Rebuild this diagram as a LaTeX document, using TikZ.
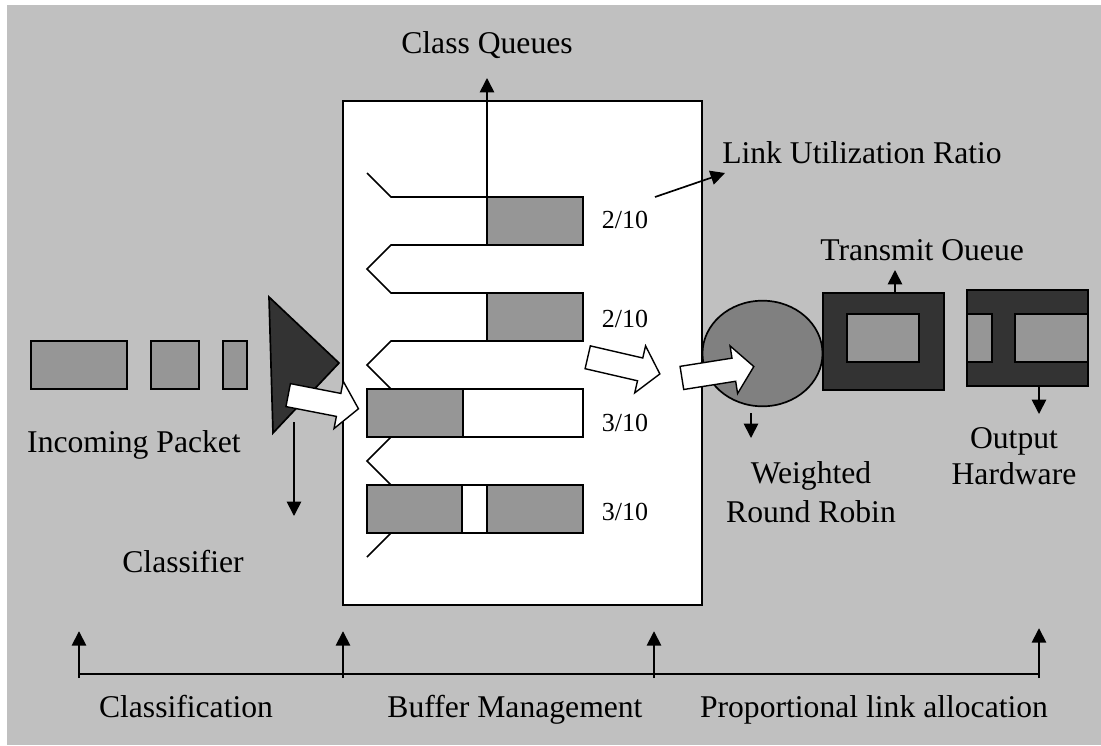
\documentclass[tikz,border=0pt]{standalone}
\usepackage{fontspec}
\setmainfont{Liberation Serif}
\usetikzlibrary{arrows.meta,positioning,shapes.geometric,shapes.arrows}
\definecolor{bggray}{HTML}{C0C0C0}
\definecolor{pktgray}{HTML}{969696}
\definecolor{rrgray}{HTML}{808080}
\definecolor{hwdark}{HTML}{333333}

\begin{document}
\begin{tikzpicture}[x=0.025cm, y=-0.025cm,
  lbl/.style={font=\fontsize{22.5}{27}\selectfont, inner sep=0pt, anchor=base},
  ratio/.style={font=\fontsize{18.5}{22}\selectfont, inner sep=0pt, anchor=base},
  blk/.style={draw, line width=1.2pt, inner sep=0pt},
  pkt/.style={blk, fill=pktgray, minimum height=1.2cm},
  hwbox/.style={blk, fill=hwdark, minimum width=3.025cm},
  bigarrow/.style={single arrow, draw, fill=white, line width=1pt,
                   inner sep=0.275cm, single arrow head extend=0.31cm,
                   single arrow tip angle=100, minimum height=1.82cm},
  tip/.style={-{Triangle[length=0.36cm,width=0.36cm]}, line width=1.2pt},
  qline/.style={line width=1.2pt, line join=miter}
]
\useasboundingbox (0,0) rectangle (1101,745);
\fill[bggray] (7,5) rectangle (1101,745);

% ---- Incoming packets -------------------------------------
\node[pkt, minimum width=2.4cm] (pkt1) at (79,365)  {};
\node[pkt, minimum width=1.2cm] (pkt2) at (175,365) {};
\node[pkt, minimum width=0.6cm] (pkt3) at (235,365) {};
\node[lbl] (inlbl) at (134,452) {Incoming Packet};

% ---- Classifier -------------------------------------------
\coordinate (clsA) at (269,297);
\coordinate (clsB) at (339,363);
\coordinate (clsC) at (273,433);
\draw[blk, fill=hwdark] (clsA) -- (clsB) -- (clsC) -- cycle;
\coordinate (clsfoot) at (294,422);
\coordinate (clstip)  at (294,516);
\draw[tip] (clsfoot) -- (clstip);
\node[lbl] (clslbl) at (183,572) {Classifier};

% ---- Buffer with class queues -----------------------------
\node[blk, fill=white, minimum width=8.975cm, minimum height=12.6cm] (buf) at (522.5,353) {};

% queue 1 and 2 (open at the left)
\draw[blk, fill=pktgray] (487,197) rectangle (583,245);
\draw[blk, fill=pktgray] (487,293) rectangle (583,341);
\draw[qline] (367,173) -- (391,197) -- (583,197) -- (583,245) -- (391,245)
  -- (367,269) -- (391,293) -- (583,293) -- (583,341) -- (391,341)
  -- (367,365) -- (391,389);
% queue 3
\draw[blk, fill=white]   (367,389) rectangle (583,437);
\draw[blk, fill=pktgray] (367,389) rectangle (463,437);
\draw[qline] (391,437) -- (367,461) -- (391,485);
% queue 4
\draw[blk, fill=white]   (367,485) rectangle (583,533);
\draw[blk, fill=pktgray] (367,485) rectangle (462,533);
\draw[blk, fill=pktgray] (487,485) rectangle (583,533);
\draw[qline] (391,533) -- (367,557);

\node[ratio] (r1) at (625,228) {2/10};
\node[ratio] (r2) at (625,327) {2/10};
\node[ratio] (r3) at (625,431) {3/10};
\node[ratio] (r4) at (625,520) {3/10};

% class queues label
\coordinate (q1top) at (487,197);
\coordinate (cqtip) at (487,78);
\draw[tip] (q1top) -- (cqtip);
\node[lbl] (cqlbl) at (487,53) {Class Queues};

% link utilization label
\coordinate (lufoot) at (655,197);
\coordinate (lutip)  at (725,173);
\draw[tip] (lufoot) -- (lutip);
\node[lbl, anchor=base west] (lulbl) at (722,163) {Link Utilization Ratio};

% ---- Weighted round robin ---------------------------------
\node[blk, ellipse, fill=rrgray, minimum width=3cm, minimum height=2.64cm] (wrr) at (762.5,353.5) {};
\coordinate (wrrfoot) at (751,413);
\coordinate (wrrtip)  at (751,438);
\draw[tip] (wrrfoot) -- (wrrtip);
\node[lbl, anchor=center, align=center, font=\fontsize{22.5}{27.7}\selectfont] (wrrlbl) at (811,492) {Weighted\\Round Robin};

% ---- Transmit queue ---------------------------------------
\node[hwbox, minimum height=2.425cm] (txq) at (883.5,341.5) {};
\draw[blk, fill=pktgray] (847,314) rectangle (919,362);
\coordinate (txqtop) at (895,293);
\coordinate (txqtip) at (895,270);
\draw[tip] (txqtop) -- (txqtip);
\node[lbl, anchor=base west] (txqlbl) at (820,260) {Transmit Oueue};

% ---- Output hardware --------------------------------------
\node[hwbox, minimum height=2.4cm] (outhw) at (1027.5,338) {};
\draw[blk, fill=pktgray] (967,314) rectangle (992,362);
\draw[blk, fill=pktgray] (1015,314) rectangle (1088,362);
\coordinate (hwfoot) at (1039,386);
\coordinate (hwtip)  at (1039,414);
\draw[tip] (hwfoot) -- (hwtip);
\node[lbl, anchor=center, align=center, font=\fontsize{22.5}{25.6}\selectfont] (hwlbl) at (1014,456) {Output\\Hardware};

% ---- Block arrows -----------------------------------------
\node[bigarrow, rotate=-11, minimum height=1.79cm] (inarr)  at (318.5,401) {};
\node[bigarrow, rotate=-13, minimum height=1.85cm] (midarr) at (619,364.5) {};
\node[bigarrow, rotate=9]                          (rrarr)  at (713,373) {};

% ---- Stages -----------------------------------------------
\coordinate (s0) at (79,674);
\coordinate (s1) at (343,674);
\coordinate (s2) at (654,674);
\coordinate (s3) at (1039,674);
\draw[line width=1.2pt] (s0) -- (s3);
\draw[tip] ([yshift=-3]s0) -- ++(0,-47);
\draw[tip] ([yshift=-3]s1) -- ++(0,-47);
\draw[tip] ([yshift=-3]s2) -- ++(0,-47);
\draw[tip] ([yshift=-3]s3) -- ++(0,-50);
\node[lbl] (stg1) at (186,717) {Classification};
\node[lbl] (stg2) at (515,717) {Buffer Management};
\node[lbl] (stg3) at (874,717) {Proportional link allocation};

\end{tikzpicture}
\end{document}
